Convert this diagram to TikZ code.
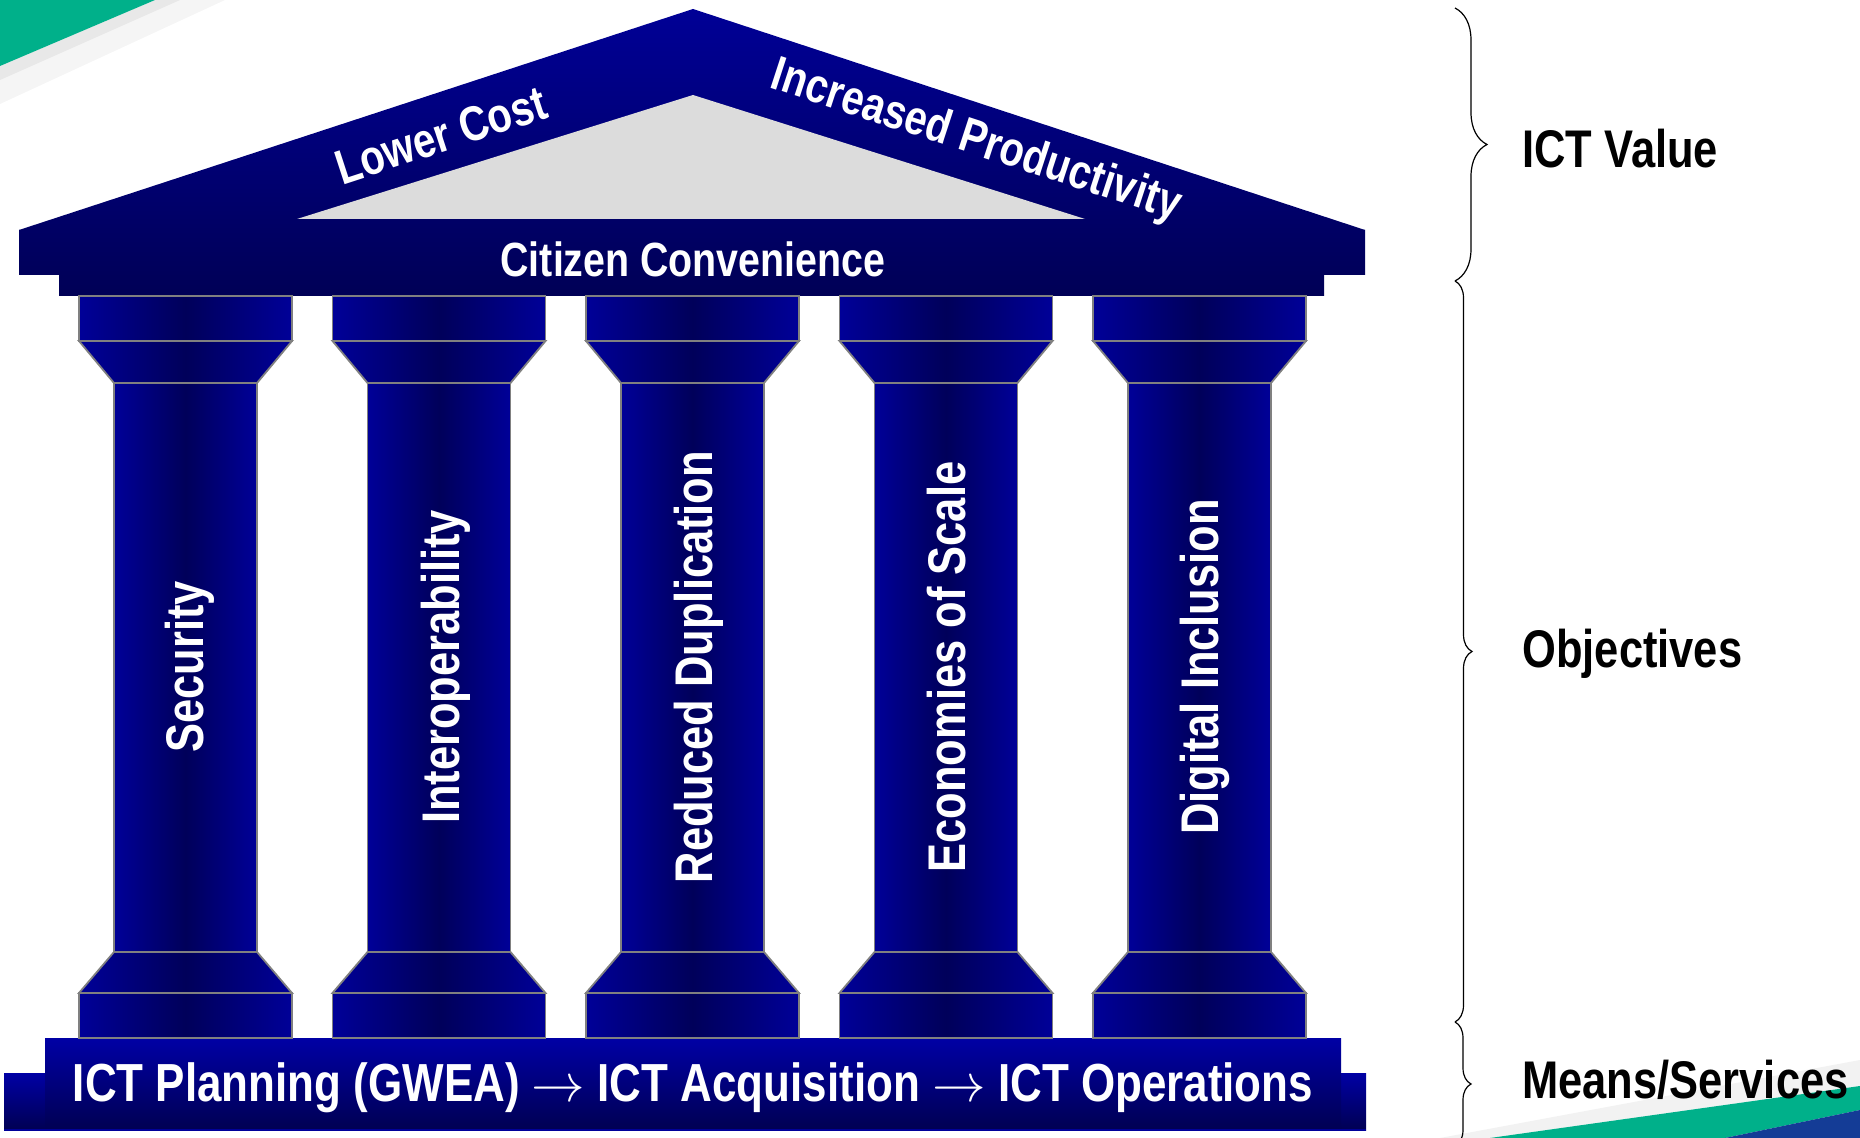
\RequirePackage{fix-cm}
\documentclass[tikz,border=0pt]{standalone}
\usepackage{fontspec}
\usepackage{tikz}
\usetikzlibrary{decorations.pathreplacing}
\newfontfamily\narrowsans[FakeStretch=0.82]{Liberation Sans}
\definecolor{navy}{RGB}{0,0,100}
\definecolor{deepnavy}{RGB}{0,0,86}
\definecolor{roofblue}{RGB}{0,0,150}
\definecolor{coledge}{RGB}{0,0,152}
\definecolor{coldark}{RGB}{0,0,90}
\definecolor{baselight}{RGB}{0,0,165}
\definecolor{basedark}{RGB}{0,0,82}
\definecolor{pediment}{RGB}{220,220,220}
\definecolor{rim}{RGB}{128,128,128}
\definecolor{swoosh}{RGB}{0,176,138}
\definecolor{swooshblue}{RGB}{20,60,150}

\begin{document}
\begin{tikzpicture}[x=0.5pt,y=-0.5pt,
	colpart/.style={left color=coledge, right color=coledge, middle color=coldark, draw=rim, line width=0.9pt},
	whitetext/.style={text=white, inner sep=0pt, font=\narrowsans\bfseries\fontsize{#1}{#1}\selectfont},
	sidetext/.style={anchor=base west, inner sep=0pt, font=\narrowsans\bfseries\fontsize{26.5}{30}\selectfont},
	sidebrace/.style={decorate, decoration={brace, amplitude=#1}, line width=0.6pt}]
	\useasboundingbox (0,0) rectangle (1860,1138);
	\clip (0,0) rectangle (1860,1138);

	\fill[black!4] (0,66) -- (155,0) -- (225,0) -- (0,104) -- cycle;
	\fill[black!9] (0,66) -- (155,0) -- (180,0) -- (0,80) -- cycle;
	\fill[swoosh] (0,0) -- (155,0) -- (0,66) -- cycle;
	\fill[black!5] (1440,1138) -- (1860,1060) -- (1860,1086) -- (1490,1138) -- cycle;
	\fill[swoosh] (1490,1138) -- (1860,1086) -- (1860,1110) -- (1725,1138) -- cycle;
	\fill[swooshblue] (1725,1138) -- (1860,1110) -- (1860,1138) -- cycle;

	\coordinate (apex) at (693,9);
	\coordinate (eaveL) at (19,230);
	\coordinate (eaveR) at (1365,230);
	\shade[top color=roofblue, bottom color=navy] (eaveL) -- (apex) -- (eaveR) -- cycle;
	\shade[top color=navy, bottom color=deepnavy] (19,230) -- (1365,230) -- (1365,275) -- (1324,275) -- (1324,296) -- (59,296) -- (59,275) -- (19,275) -- cycle;
	\fill[pediment] (297,219) -- (693,95) -- (1085,219) -- cycle;

	\shade[top color=baselight, bottom color=basedark] (4,1073) rectangle (1366,1130);
	\shade[top color=baselight, bottom color=basedark] (45,1038) rectangle (1341,1130);
	\draw[color=blue!60!black, line width=0.6pt] (4,1130) -- (1366,1130);

	\foreach \cx in {185.5,439,692.5,946,1199.5} {
		\path[colpart] (\cx-106.5,296) rectangle (\cx+106.5,341);
		\path[colpart] (\cx-106.5,341) -- (\cx+106.5,341) -- (\cx+71.5,383) -- (\cx-71.5,383) -- cycle;
		\path[colpart] (\cx-71.5,383) rectangle (\cx+71.5,952);
		\path[colpart] (\cx-71.5,952) -- (\cx+71.5,952) -- (\cx+106.5,993) -- (\cx-106.5,993) -- cycle;
		\path[colpart] (\cx-106.5,993) rectangle (\cx+106.5,1038);
	}
	\foreach \cx/\name/\txt in {190/security/Security, 446/interop/Interoperability, 699/duplication/Reduced Duplication, 947/economies/Economies of Scale, 1205/inclusion/Digital Inclusion}
		\node[whitetext=26.5, rotate=90] (\name) at (\cx,667) {\txt};

	\node[whitetext=24.5, rotate=18.1] (lowercost) at (441,135) {Lower Cost};
	\node[whitetext=24.3, rotate=-18.1] (productivity) at (976,142) {Increased Productivity};
	\node[whitetext=24, anchor=base] (citizen) at (693,277) {Citizen Convenience};
	\node[whitetext=26.8, anchor=base] (chain) at (693,1101) {ICT Planning (GWEA) $\rightarrow$ ICT Acquisition $\rightarrow$ ICT Operations};

	\draw[sidebrace=16pt] (1455,8) -- (1455,281);
	\draw[sidebrace=8.5pt] (1455,281) -- (1455,1022);
	\draw[sidebrace=8pt] (1455,1022) -- (1455,1146);
	\node[sidetext] (ictvalue) at (1522,168) {ICT Value};
	\node[sidetext] (objectives) at (1522,668) {Objectives};
	\node[sidetext] (means) at (1522,1098) {Means/Services};
\end{tikzpicture}
\end{document}
